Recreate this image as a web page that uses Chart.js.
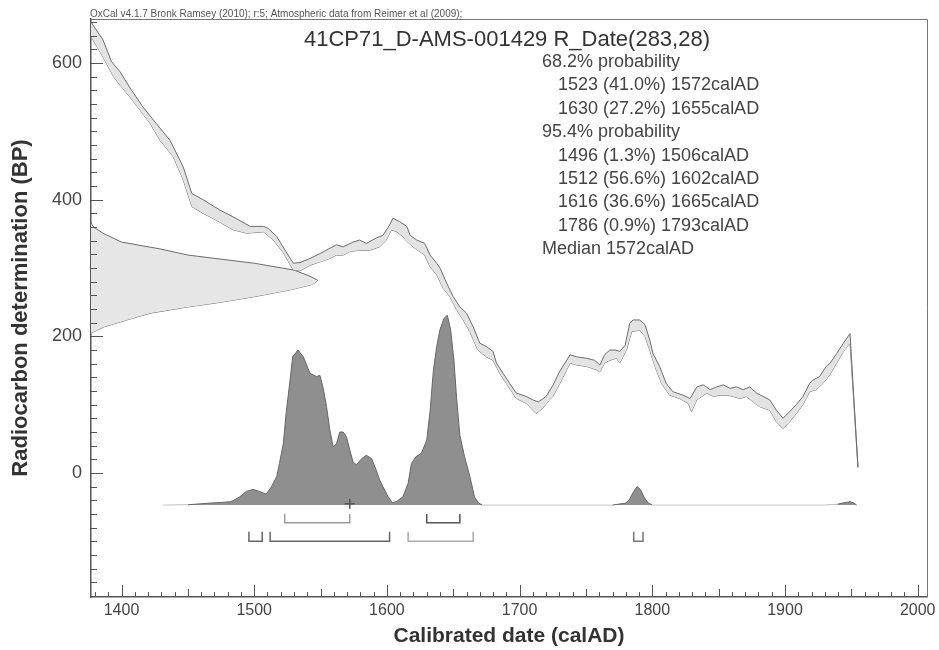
<!DOCTYPE html>
<html>
<head>
<meta charset="utf-8">
<title>41CP71_D-AMS-001429 R_Date(283,28)</title>
<script src="https://cdn.jsdelivr.net/npm/chart.js@4.4.1/dist/chart.umd.min.js"></script>
<style>
  html, body { margin: 0; padding: 0; background: #fff; }
  #wrap { width: 939px; height: 650px; }
</style>
</head>
<body>
<div id="wrap"><canvas id="chart" width="939" height="650"></canvas></div>
<script>
// calibration curve (IntCal09 band), upper and lower edges
const calUpYears = [1377, 1386, 1392.5, 1399, 1406, 1416, 1426, 1436.5, 1446.5, 1453,
  1461.5, 1474, 1484, 1497, 1507, 1510.5, 1517, 1524.5, 1529.5, 1534.5,
  1542, 1549.5, 1557, 1562, 1567, 1574.5, 1579.5, 1584.5, 1592, 1597,
  1602, 1604.5, 1609.5, 1615, 1617.5, 1622.5, 1628.5, 1632.5, 1637.5, 1640,
  1645, 1650, 1655, 1660, 1665, 1670, 1675, 1680, 1682.5, 1687.5,
  1692.5, 1697.5, 1705, 1710, 1714, 1720, 1725, 1730, 1738, 1743,
  1750.5, 1756.5, 1760.5, 1764, 1768, 1772, 1775.5, 1779.5, 1783, 1785.5,
  1790.5, 1794.5, 1798, 1800.5, 1805.5, 1810.5, 1815.5, 1823, 1828.5, 1833.5,
  1838.5, 1843.5, 1848.5, 1853.5, 1858.5, 1863.5, 1868.5, 1873.5, 1878.5, 1883.5,
  1888.5, 1893.5, 1898.5, 1903.5, 1908.5, 1913.5, 1918.5, 1921, 1926, 1931,
  1934, 1939, 1944, 1949, 1955];
const calUpBP = [660, 634, 602, 587, 565, 536, 512, 487, 448, 409,
  400, 385, 375, 361, 361, 358, 346, 322, 307, 308,
  314, 321, 329, 334, 331, 338, 341, 336, 344, 348,
  363, 373, 368, 361, 348, 341, 336, 319, 307, 300,
  278, 258, 243, 234, 214, 190, 185, 178, 161, 146,
  131, 117, 112, 107, 104, 112, 128, 148, 173, 170,
  168, 165, 158, 173, 180, 180, 178, 187, 219, 224,
  224, 217, 195, 175, 156, 131, 119, 114, 109, 126,
  129, 122, 126, 129, 124, 126, 122, 126, 117, 112,
  107, 92, 80, 90, 100, 112, 131, 136, 141, 156,
  161, 175, 190, 204, 8];
const calLoYears = [1377, 1386, 1394, 1400, 1406, 1416, 1421.5, 1429, 1439, 1446.5,
  1453, 1461.5, 1471.5, 1484, 1494.5, 1507, 1514.5, 1522, 1529.5, 1534.5,
  1542, 1549.5, 1557, 1562, 1567, 1572, 1579.5, 1587, 1594.5, 1599.5,
  1603.5, 1607.5, 1612, 1615, 1621, 1628.5, 1632.5, 1637.5, 1642.5, 1647.5,
  1652.5, 1657.5, 1662.5, 1668.5, 1675, 1680, 1685, 1690, 1697.5, 1705,
  1712.5, 1717.5, 1722.5, 1725, 1730, 1738, 1743, 1750.5, 1758, 1760.5,
  1764, 1768, 1773, 1775.5, 1780.5, 1784.5, 1790.5, 1794.5, 1798, 1802,
  1807, 1813, 1820.5, 1827, 1829.5, 1833.5, 1841, 1846, 1851, 1856,
  1861, 1866, 1871, 1876, 1881, 1888.5, 1893.5, 1898.5, 1903.5, 1908.5,
  1913.5, 1918.5, 1923.5, 1928.5, 1933.5, 1939, 1944, 1949, 1955];
const calLoBP = [639, 609, 580, 565, 551, 526, 512, 487, 463, 429,
  390, 380, 370, 356, 351, 353, 341, 322, 297, 296,
  304, 309, 314, 319, 319, 324, 326, 326, 331, 341,
  356, 353, 346, 339, 329, 319, 302, 290, 270, 258,
  239, 224, 207, 180, 170, 165, 146, 131, 109, 102,
  87, 95, 107, 112, 130, 161, 158, 156, 151, 148,
  161, 165, 168, 161, 180, 207, 209, 200, 180, 156,
  131, 114, 109, 102, 90, 107, 117, 112, 114, 114,
  112, 109, 112, 104, 97, 92, 75, 65, 75, 87,
  100, 119, 122, 131, 143, 161, 178, 190, 8];

// measured date 283 +/- 28 BP, drawn sideways from the y axis (width in years)
const gaussTopBP = [366, 360, 351, 338, 328, 319, 307, 297, 288, 282];
const gaussTopW = [0, 2, 9, 23, 52, 73, 123, 153, 165, 171];
const gaussLowBP = [205, 214, 224, 234, 243, 250, 258, 268, 276, 282];
const gaussLowW = [0, 10, 27, 45, 73, 98, 123, 150, 167, 171];

// calibrated probability distribution (height on the BP scale)
const postYears = [1431, 1450, 1467, 1476, 1482, 1484, 1489, 1494, 1499, 1504,
  1509, 1513, 1517, 1519, 1522, 1524, 1527, 1529, 1533, 1537,
  1542, 1547, 1549.5, 1552, 1554.5, 1557, 1559.5, 1562, 1564.5, 1567,
  1569.5, 1572, 1574.5, 1577, 1581, 1584.5, 1588.5, 1592, 1594.5, 1597,
  1601, 1604, 1607, 1612, 1616, 1618.5, 1622, 1626, 1630, 1632.5,
  1635, 1637.5, 1640, 1643, 1645.5, 1648, 1650.5, 1652.5, 1655, 1658.5,
  1662.5, 1666, 1669, 1672, 1770, 1780, 1783, 1786, 1788.5, 1791,
  1794, 1797, 1800, 1930, 1940, 1946, 1949, 1952, 1954];
const postBP = [-47, -46.5, -44, -43, -42, -40.5, -35, -27, -24, -27,
  -31, -20, -5, 14, 44, 87, 136, 170, 180, 170,
  146, 141, 143, 124, 97, 63, 38, 43, 60, 60,
  53, 34, 16, 12, 21, 26, 21, 4, -10, -20,
  -35, -43.5, -42, -35, -15, 14, 24, 29, 48, 90,
  150, 185, 210, 226, 231, 210, 165, 110, 55, 24,
  -5, -35, -44, -47, -47, -44, -38, -27, -20, -24,
  -36, -44, -47, -47, -45.5, -43, -42, -44, -47];

// calibrated ranges
const range68 = [[1523, 1572], [1630, 1655]];
const pct68 = [41.0, 27.2];
const range95 = [[1496, 1506], [1512, 1602], [1616, 1665], [1786, 1793]];
const pct95 = [1.3, 56.6, 36.6, 0.9];
const medianYear = 1572;

// axes
const xTickLabels = [1400, 1500, 1600, 1700, 1800, 1900, 2000];
const yTickLabels = [0, 200, 400, 600];
const X_MIN = 1377, X_MAX = 2007, Y_MIN = -181.5, Y_MAX = 664.5;
const X_MINOR = 10, Y_MINOR = 20;

// vertical placement of the distribution and range brackets (BP scale)
const POST_BASE = -47;
const ROW68 = [-60, -73];
const ROW95 = [-86, -100];

const FONT = "'Liberation Sans', Arial, sans-serif";
Chart.defaults.font.family = FONT;

const pts = (xs, ys) => xs.map((x, i) => ({x: x, y: ys[i]}));

const xTicks = [];
for (let v = Math.ceil(X_MIN / X_MINOR) * X_MINOR; v <= X_MAX; v += X_MINOR) xTicks.push(v);
const yTicks = [];
for (let v = Math.ceil(Y_MIN / Y_MINOR) * Y_MINOR; v <= Y_MAX; v += Y_MINOR) yTicks.push(v);

function bracket(r, row, color) {
  return {
    data: [{x: r[0], y: row[0]}, {x: r[0], y: row[1]}, {x: r[1], y: row[1]}, {x: r[1], y: row[0]}],
    borderColor: color, borderWidth: 1.5, fill: false, pointRadius: 0, order: 0
  };
}

const edge = '#6c6c6c';
const datasets = [
  // calibration band
  {data: pts(calUpYears, calUpBP), borderColor: edge, borderWidth: 1, backgroundColor: '#e3e3e3', fill: '+1', order: 3},
  {data: pts(calLoYears, calLoBP), borderColor: edge, borderWidth: 1, fill: false, order: 3},
  // radiocarbon measurement
  {data: pts(gaussTopW.map(w => X_MIN + w), gaussTopBP), borderColor: edge, borderWidth: 1, backgroundColor: '#e6e6e6', fill: '+1', order: 4},
  {data: pts(gaussLowW.map(w => X_MIN + w), gaussLowBP), borderColor: edge, borderWidth: 1, fill: false, order: 4},
  // posterior
  {data: pts(postYears, postBP), borderColor: '#666', borderWidth: 1, backgroundColor: '#8f8f8f',
   fill: {value: POST_BASE}, order: 2,
   segment: {borderColor: c => (c.p0.parsed.y < POST_BASE + 3 && c.p1.parsed.y < POST_BASE + 3) ? '#c6c6c6' : '#666'}},
  // median
  {data: [{x: medianYear, y: POST_BASE + 2}], showLine: false, pointStyle: 'cross', pointRadius: 5,
   pointBorderColor: '#555', pointBorderWidth: 1.5, order: 0}
];
const col68 = ['#9c9c9c', '#555'];
const col95 = ['#666', '#666', '#aaa', '#777'];
range68.forEach((r, i) => datasets.push(bracket(r, ROW68, col68[i])));
range95.forEach((r, i) => datasets.push(bracket(r, ROW95, col95[i])));

const statLines = [['68.2% probability', false]]
  .concat(range68.map((r, i) => [r[0] + ' (' + pct68[i].toFixed(1) + '%) ' + r[1] + 'calAD', true]))
  .concat([['95.4% probability', false]])
  .concat(range95.map((r, i) => [r[0] + ' (' + pct95[i].toFixed(1) + '%) ' + r[1] + 'calAD', true]))
  .concat([['Median ' + medianYear + 'calAD', false]]);

// frame, inward tick marks and the text block
const decor = {
  id: 'decor',
  afterDraw(chart) {
    const {ctx, chartArea: a, scales: {x, y}} = chart;
    ctx.save();
    ctx.strokeStyle = '#777';
    ctx.lineWidth = 1;
    ctx.beginPath();
    ctx.moveTo(a.left, a.top + 0.5);
    ctx.lineTo(a.right + 0.5, a.top + 0.5);
    ctx.lineTo(a.right + 0.5, a.bottom);
    ctx.stroke();

    ctx.strokeStyle = '#555';
    ctx.beginPath();
    y.ticks.forEach(t => {
      const py = Math.round(y.getPixelForValue(t.value)) + 0.5;
      const len = t.value % 200 === 0 ? 12 : 6;
      ctx.moveTo(a.left, py);
      ctx.lineTo(a.left + len, py);
    });
    x.ticks.forEach(t => {
      const px = Math.round(x.getPixelForValue(t.value)) + 0.5;
      const len = t.value % 100 === 0 ? 12 : (t.value % 50 === 0 ? 8 : 5);
      ctx.moveTo(px, a.bottom);
      ctx.lineTo(px, a.bottom - len);
    });
    ctx.stroke();

    ctx.fillStyle = '#555';
    ctx.font = '10px ' + FONT;
    ctx.textAlign = 'left';
    ctx.textBaseline = 'alphabetic';
    ctx.fillText('OxCal v4.1.7 Bronk Ramsey (2010); r:5; Atmospheric data from Reimer et al (2009);', a.left - 1, 16.5);

    ctx.fillStyle = '#333';
    ctx.font = '22px ' + FONT;
    ctx.textAlign = 'center';
    ctx.textBaseline = 'middle';
    ctx.fillText('41CP71_D-AMS-001429 R_Date(283,28)', 507, 40);

    ctx.fillStyle = '#444';
    ctx.font = '18px ' + FONT;
    ctx.textAlign = 'left';
    statLines.forEach((l, i) => {
      ctx.fillText(l[0], l[1] ? 558 : 542, 62 + i * 23.4);
    });
    ctx.restore();
  }
};

new Chart(document.getElementById('chart').getContext('2d'), {
  type: 'line',
  data: {datasets: datasets},
  options: {
    responsive: false,
    animation: false,
    events: [],
    layout: {padding: {top: 19, right: 12, left: 0, bottom: 0}},
    plugins: {legend: {display: false}, tooltip: {enabled: false}},
    elements: {point: {radius: 0}, line: {tension: 0}},
    scales: {
      x: {
        type: 'linear', min: X_MIN, max: X_MAX,
        grid: {display: false, drawTicks: false},
        border: {display: true, color: '#555', width: 1.5},
        afterBuildTicks: s => { s.ticks = xTicks.map(v => ({value: v})); },
        afterFit: s => { s.height = 53; s.paddingLeft = 0; s.paddingRight = 0; },
        ticks: {
          autoSkip: false, maxRotation: 0, padding: 4, color: '#444',
          font: {size: 16},
          callback: v => xTickLabels.includes(v) ? String(v) : ''
        },
        title: {display: true, text: 'Calibrated date (calAD)', color: '#333',
          font: {size: 21, weight: 'bold'}, padding: {top: 0, bottom: 1}}
      },
      y: {
        type: 'linear', min: Y_MIN, max: Y_MAX,
        grid: {display: false, drawTicks: false},
        border: {display: true, color: '#555', width: 1.5},
        afterBuildTicks: s => { s.ticks = yTicks.map(v => ({value: v})); },
        afterFit: s => { s.width = 91; s.paddingTop = 0; s.paddingBottom = 0; },
        ticks: {
          autoSkip: false, padding: 9, color: '#444', font: {size: 18},
          callback: v => yTickLabels.includes(v) ? String(v) : ''
        },
        title: {display: true, text: 'Radiocarbon determination (BP)', color: '#333',
          font: {size: 22, weight: 'bold'}, padding: {top: 8, bottom: 0}}
      }
    }
  },
  plugins: [decor]
});
</script>
</body>
</html>
